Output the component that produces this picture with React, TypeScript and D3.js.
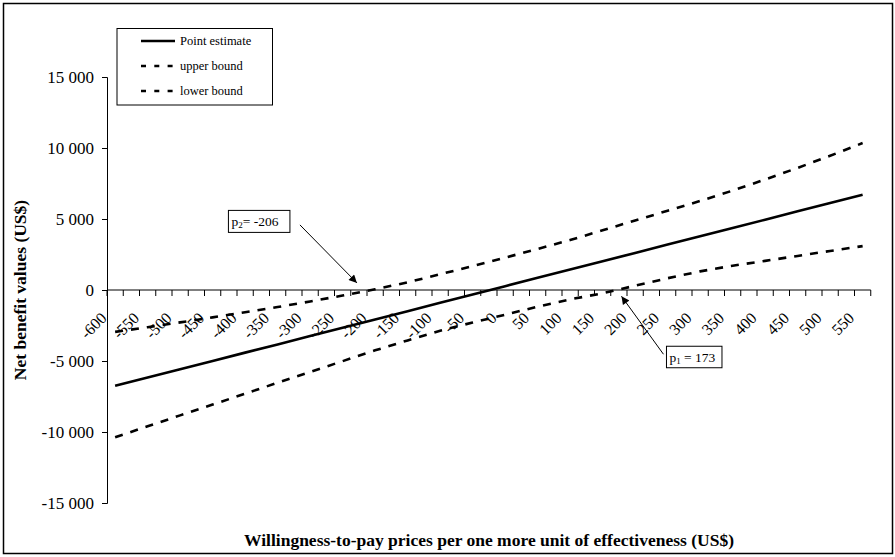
import React, { useEffect, useRef } from 'react';
import * as d3 from 'd3';

// willingness-to-pay prices (category centres)
const prices = [-600, -550, -500, -450, -400, -350, -300, -250, -200, -150, -100, -50, 0, 50, 100, 150, 200, 250, 300, 350, 400, 450, 500, 550];
const pointEstimate = [-6750, -6170, -5580, -5000, -4410, -3830, -3240, -2660, -2070, -1490, -900, -320, 270, 860, 1440, 2030, 2610, 3200, 3780, 4370, 4950, 5540, 6120, 6700];
const upperBound = [-2950, -2620, -2280, -1930, -1570, -1200, -810, -390, 50, 540, 1110, 1680, 2280, 2890, 3520, 4200, 4900, 5580, 6270, 7000, 7780, 8600, 9450, 10350];
const lowerBound = [-10370, -9600, -8830, -8070, -7300, -6530, -5770, -5010, -4250, -3550, -2870, -2290, -1740, -1170, -660, -230, 300, 830, 1310, 1710, 2050, 2400, 2750, 3090];
const yTicks = [-15000, -10000, -5000, 0, 5000, 10000, 15000];
const legendItems = ['Point estimate', 'upper bound', 'lower bound'];

const FONT = "'Liberation Serif', 'Times New Roman', serif";

const fmt = (v) => {
  const s = d3.format(',')(Math.abs(v)).replace(/,/g, ' ');
  return v < 0 ? '-' + s : s;
};

const NetBenefitChart = () => {
  const ref = useRef<SVGSVGElement | null | any>(null);

  useEffect(() => {
    const svg = d3.select(ref.current);
    svg.selectAll('*').remove();

    const step = 25;
    const x = d3
      .scaleLinear()
      .domain([prices[0] - step / 2, prices[prices.length - 1] + step / 2])
      .range([107, 870.75]);
    const y = d3.scaleLinear().domain([-15000, 15000]).range([503, 77]);

    // arrow marker
    svg
      .append('defs')
      .append('marker')
      .attr('id', 'arrowhead')
      .attr('viewBox', '0 0 10 10')
      .attr('refX', 10)
      .attr('refY', 5)
      .attr('markerWidth', 11)
      .attr('markerHeight', 8)
      .attr('markerUnits', 'userSpaceOnUse')
      .attr('orient', 'auto')
      .append('path')
      .attr('d', 'M0,0L10,5L0,10Z')
      .attr('fill', 'black');

    // outer frame
    svg.append('rect').attr('x', 3.5).attr('y', 3.5).attr('width', 889).attr('height', 550).attr('fill', 'white').attr('stroke', 'black').attr('stroke-width', 1.5);

    // y axis
    const yAxis = svg.append('g').attr('transform', `translate(${x.range()[0]},0)`).call(d3.axisLeft(y).tickValues(yTicks).tickSize(5).tickFormat(fmt));
    yAxis.attr('font-family', FONT);
    yAxis.select('.domain').attr('stroke', 'black');
    yAxis.selectAll('.tick line').attr('stroke', 'black');
    yAxis.selectAll('.tick text').attr('font-family', FONT).attr('font-size', 17).attr('fill', 'black').attr('x', -13);

    // x axis at zero
    const boundaries = d3.range(prices[0] - step / 2, prices[prices.length - 1] + step, step);
    const xAxis = svg.append('g').attr('transform', `translate(0,${y(0)})`);
    xAxis.append('line').attr('x1', x.range()[0]).attr('x2', x.range()[1]).attr('stroke', 'black');
    xAxis
      .selectAll('.tk')
      .data(boundaries)
      .enter()
      .append('line')
      .attr('x1', (d) => x(d))
      .attr('x2', (d) => x(d))
      .attr('y1', 0)
      .attr('y2', 6)
      .attr('stroke', 'black');

    // series
    const line = d3
      .line()
      .x((d) => x(d[0]))
      .y((d) => y(d[1]));
    const series = [
      { values: pointEstimate, dash: null },
      { values: upperBound, dash: '8,8' },
      { values: lowerBound, dash: '8,8' },
    ];
    series.forEach((s) => {
      svg
        .append('path')
        .datum(prices.map((p, i) => [p, s.values[i]]))
        .attr('d', line)
        .attr('fill', 'none')
        .attr('stroke', 'black')
        .attr('stroke-width', 2.6)
        .attr('stroke-dasharray', s.dash);
    });

    // x tick labels, rotated
    xAxis
      .selectAll('.lbl')
      .data(prices)
      .enter()
      .append('text')
      .attr('transform', (d) => `translate(${x(d) - 7.5},${29}) rotate(-45)`)
      .attr('text-anchor', 'end')
      .attr('font-family', FONT)
      .attr('font-size', 16)
      .text((d) => d);

    // axis titles
    svg
      .append('text')
      .attr('x', 489)
      .attr('y', 546)
      .attr('text-anchor', 'middle')
      .attr('font-family', FONT)
      .attr('font-weight', 'bold')
      .attr('font-size', 17.5)
      .text('Willingness-to-pay prices per one more unit of effectiveness (US$)');
    svg
      .append('text')
      .attr('transform', `translate(26,${y(0)}) rotate(-90)`)
      .attr('text-anchor', 'middle')
      .attr('font-family', FONT)
      .attr('font-weight', 'bold')
      .attr('font-size', 17.5)
      .text('Net benefit values (US$)');

    // legend
    const lg = svg.append('g').attr('transform', 'translate(117,28.5)');
    lg.append('rect').attr('width', 155.5).attr('height', 76.5).attr('fill', 'white').attr('stroke', 'black');
    legendItems.forEach((name, i) => {
      const cy = 12.5 + i * 25;
      lg.append('line')
        .attr('x1', 24)
        .attr('x2', 58)
        .attr('y1', cy)
        .attr('y2', cy)
        .attr('stroke', 'black')
        .attr('stroke-width', 2.6)
        .attr('stroke-dasharray', i === 0 ? null : '5,8.3');
      lg.append('text')
        .attr('x', 63)
        .attr('y', cy + 4)
        .attr('font-family', FONT)
        .attr('font-size', 12.5)
        .text(name);
    });

    // annotations
    const notes = [
      { sub: '2', text: '= -206', tip: [-228, 500], tail: [-57, -58], box: [-128.5, -72.5, 61.5, 22] },
      { sub: '1', text: ' = 173', tip: [179, -440], tail: [42, 58], box: [45, 50, 55.5, 21.5] },
    ];
    notes.forEach((n) => {
      const tx = x(n.tip[0]);
      const ty = y(n.tip[1]);
      svg
        .append('line')
        .attr('x1', tx + n.tail[0])
        .attr('y1', ty + n.tail[1])
        .attr('x2', tx)
        .attr('y2', ty)
        .attr('stroke', 'black')
        .attr('stroke-width', 1)
        .attr('marker-end', 'url(#arrowhead)');
      const g = svg.append('g').attr('transform', `translate(${tx + n.box[0]},${ty + n.box[1]})`);
      g.append('rect').attr('width', n.box[2]).attr('height', n.box[3]).attr('fill', 'white').attr('stroke', 'black');
      const t = g.append('text').attr('x', 3).attr('y', 15.5).attr('font-family', FONT).attr('font-size', 13.5);
      t.append('tspan').text('p');
      t.append('tspan').attr('font-size', 9).attr('dy', 2).text(n.sub);
      t.append('tspan').attr('dy', -2).text(n.text);
    });
  }, []);

  return <svg ref={ref} width={895} height={557} style={{ position: 'absolute', left: 0, top: 0, background: 'white' }} />;
};

export default function App() {
  return <NetBenefitChart />;
}
